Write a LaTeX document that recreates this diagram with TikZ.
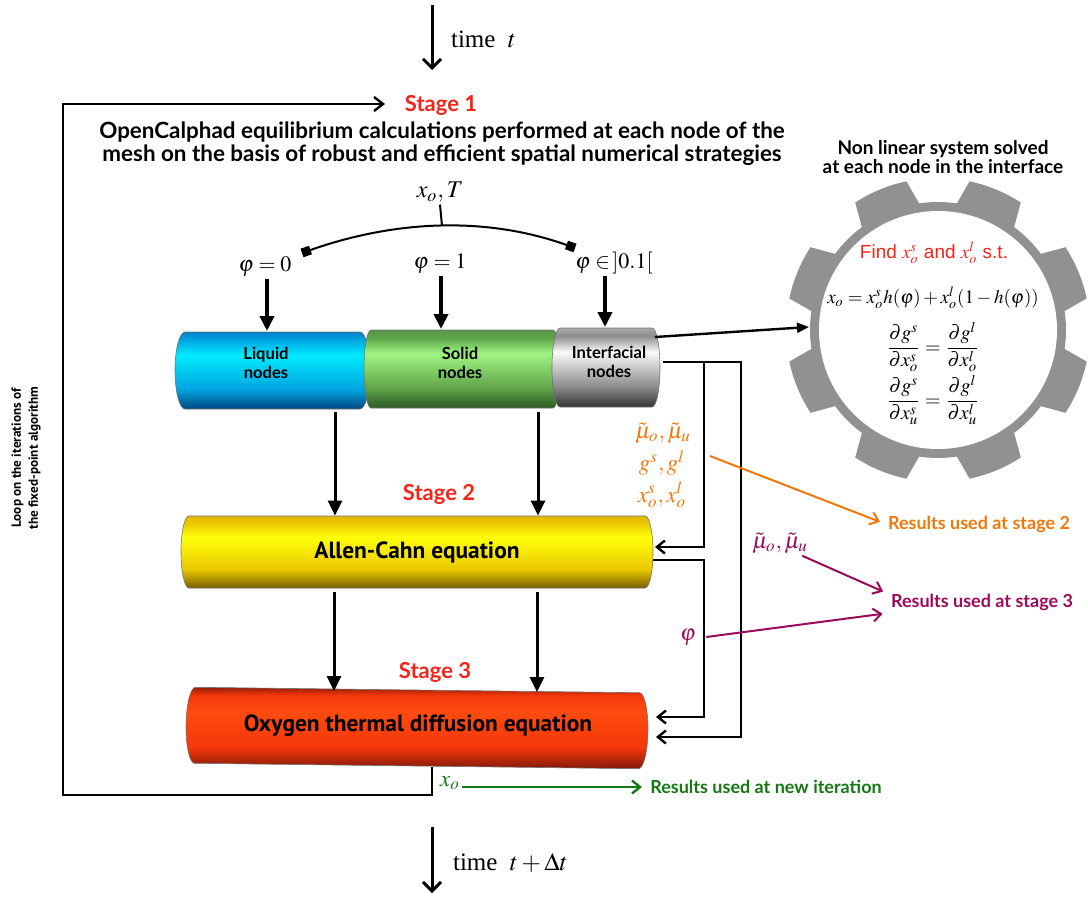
\documentclass[tikz,border=0pt]{standalone}
\usepackage{mathptmx}
\usepackage[no-math]{fontspec}
\setmainfont{Liberation Serif}
\newfontfamily\latofont{Lato}
\newfontfamily\ptfont{PT Sans}
\newfontfamily\helvfont{Liberation Sans}
\usetikzlibrary{arrows.meta,positioning}

\definecolor{stagered}{RGB}{245,35,25}
\definecolor{resorange}{RGB}{240,120,10}
\definecolor{respurple}{RGB}{155,10,90}
\definecolor{resgreen}{RGB}{20,120,20}
\definecolor{gearcol}{RGB}{145,145,145}
% cylinder colours: dark, base, light, top
\definecolor{liqdark}{RGB}{0,70,130}   \definecolor{liqbase}{RGB}{0,165,225}
\definecolor{liqlight}{RGB}{0,235,255} \definecolor{liqtop}{RGB}{0,130,200}
\definecolor{soldark}{RGB}{45,90,35}   \definecolor{solbase}{RGB}{95,165,75}
\definecolor{sollight}{RGB}{160,245,130} \definecolor{soltop}{RGB}{90,150,70}
\definecolor{intdark}{RGB}{50,50,50}   \definecolor{intbase}{RGB}{140,140,140}
\definecolor{intlight}{RGB}{250,250,250} \definecolor{inttop}{RGB}{170,170,170}
\definecolor{acdark}{RGB}{120,95,0}    \definecolor{acbase}{RGB}{235,200,0}
\definecolor{aclight}{RGB}{255,255,10} \definecolor{actop}{RGB}{225,185,0}
\definecolor{oxdark}{RGB}{130,25,10}   \definecolor{oxbase}{RGB}{245,55,10}
\definecolor{oxlight}{RGB}{255,75,15}  \definecolor{oxtop}{RGB}{150,30,10}

\newcommand{\cylshade}[5]{%
  \pgfdeclareverticalshading{#1}{100bp}{color(0bp)=(#2); color(25bp)=(#2); color(38bp)=(#3); color(60bp)=(#4); color(70bp)=(#3); color(75bp)=(#5); color(100bp)=(#5)}}
\cylshade{liqshade}{liqdark}{liqbase}{liqlight}{liqtop}
\cylshade{solshade}{soldark}{solbase}{sollight}{soltop}
\cylshade{intshade}{intdark}{intbase}{intlight}{inttop}
\cylshade{acshade}{acdark}{acbase}{aclight}{actop}
\cylshade{oxshade}{oxdark}{oxbase}{oxlight}{oxtop}

% x1, y1 (top), x2, y2 (bottom), cap radius, shading
\newcommand{\cylinder}[6]{%
  \shade[shading=#6, draw=black!55, line width=0.3pt]
    (#1+#5,-#2) -- (#3-#5,-#2)
    arc[start angle=90, end angle=-90, x radius=#5, y radius={(#4-#2)/2}]
    -- (#1+#5,-#4)
    arc[start angle=270, end angle=90, x radius=#5, y radius={(#4-#2)/2}] -- cycle;}

\tikzset{
  conn/.style={line width=1.2pt, line join=miter},
  barb/.style={-{Straight Barb[length=4pt,width=6.5pt]}},
  fat/.style={line width=2pt, -{Triangle[length=7.5pt,width=7pt]}},
  down/.style={line width=1.5pt, -{Triangle[length=7.5pt,width=7pt]}},
  stagelbl/.style={text=stagered, font=\latofont\bfseries\fontsize{11}{12}\selectfont},
  cyltxt/.style={font=\latofont\bfseries\fontsize{8.3}{9.6}\selectfont, align=center},
  bigtxt/.style={font=\ptfont\bfseries\fontsize{11.7}{13}\selectfont},
  mathlbl/.style={font=\fontsize{11.5}{13}\selectfont, inner sep=1pt},
  eqtxt/.style={font=\fontsize{10}{12}\selectfont, inner sep=1pt},
  restxt/.style={font=\latofont\bfseries\fontsize{9}{10}\selectfont, inner sep=1pt},
}

\begin{document}
\begin{tikzpicture}[x=0.5pt, y=0.5pt]
\useasboundingbox (0,0) rectangle (1088,-900);

% time arrows
\coordinate (tin) at (432,-5);
\coordinate (tinend) at (432,-70);
\draw[line width=1.5pt, -{Straight Barb[length=4.5pt,width=9pt]}] (tin) -- (tinend);
\node[anchor=west, font=\fontsize{12.5}{14}\selectfont] (timet) at (444,-39) {time\enspace$t$};
\coordinate (tout) at (432,-827);
\coordinate (toutend) at (432,-893);
\draw[line width=1.5pt, -{Straight Barb[length=4.5pt,width=9pt]}] (tout) -- (toutend);
\node[anchor=west, font=\fontsize{12.5}{14}\selectfont] (timedt) at (446,-863) {time\enspace$t+\Delta t$};

% stage 1
\node[stagelbl] (stage1) at (441,-105) {Stage 1};
\node[font=\latofont\bfseries\fontsize{11.2}{11.5}\selectfont, align=center] (title) at (442,-144)
  {OpenCalphad equilibrium calculations performed at each node of the\\mesh on the basis of robust and efficient spatial numerical strategies};
\node[mathlbl, font=\fontsize{12}{14}\selectfont] (xoT) at (440,-192) {$x_o,T$};
\coordinate (arctop) at (442,-226);
\coordinate (arcL) at (302,-253);
\coordinate (arcR) at (575,-248);
\draw[line width=1pt] (xoT.south) -- (arctop);
\draw[line width=1pt, {Square[length=4.5pt,width=4.5pt]}-{Square[length=4.5pt,width=4.5pt]}]
  (arcL) .. controls (398,-219) and (489,-217) .. (arcR);
\node[mathlbl, font=\fontsize{11}{13}\selectfont] (phi0) at (265,-267) {$\varphi=0$};
\node[mathlbl, font=\fontsize{11}{13}\selectfont] (phi1) at (440,-264) {$\varphi=1$};
\node[mathlbl, font=\fontsize{11}{13}\selectfont] (phiI) at (614,-263) {$\varphi\in\,]0.1[$};

% stage 1 cylinder
\cylinder{175}{332}{370}{409}{10}{liqshade}
\cylinder{364}{330}{560}{408}{7}{solshade}
\cylinder{552}{328}{660}{407}{8}{intshade}
\node[cyltxt] (liquid) at (266,-363) {Liquid\\nodes};
\node[cyltxt] (solid) at (460,-363) {Solid\\nodes};
\node[cyltxt] (intf) at (609,-362) {Interfacial\\nodes};
\coordinate (liqtop) at (267,-331);
\coordinate (soltop) at (441,-329);
\coordinate (inttop) at (605,-327);
\draw[fat] (liqtop |- phi0.south) -- (liqtop);
\draw[fat] (soltop |- phi1.south) -- (soltop);
\draw[fat] (inttop |- phiI.south) -- (inttop);

% stage 2
\node[stagelbl] (stage2) at (439,-494) {Stage 2};
\cylinder{181}{516}{653}{588}{8}{acshade}
\node[bigtxt, minimum width=236pt, minimum height=36pt, inner sep=0] (allen) at (417,-552) {Allen-Cahn equation};
\coordinate (d1) at (335,-412);
\coordinate (d2) at (538,-412);
\draw[down] (d1) -- (d1 |- allen.north);
\draw[down] (d2) -- (d2 |- allen.north);

% stage 3
\node[stagelbl] (stage3) at (435,-672) {Stage 3};
\begin{scope}[rotate around={-0.7:(417,-728)}]
\cylinder{186}{690}{648}{766}{9}{oxshade}
\end{scope}
\node[bigtxt] (oxygen) at (418,-726) {Oxygen thermal diffusion equation};
\coordinate (d3) at (334,-592);
\coordinate (d4) at (537,-592);
\coordinate (d3e) at (334,-691);
\coordinate (d4e) at (537,-692);
\draw[down] (d3) -- (d3e);
\draw[down] (d4) -- (d4e);

% gear
\begin{scope}[shift={(938,-330)}]
\fill[gearcol] (0:128) \foreach \t in {22.5,67.5,...,337.5}{
    arc[start angle=\t-22.5, end angle=\t-14, radius=128] -- ({\t-10.5}:152)
    arc[start angle=\t-10.5, end angle=\t+10.5, radius=152] -- ({\t+14}:128)
    arc[start angle=\t+14, end angle=\t+22.5, radius=128]} -- cycle;
\end{scope}
\node[circle, fill=white, inner sep=0, minimum size=119pt] (gear) at (938,-330) {};
\node[font=\latofont\bfseries\fontsize{9.5}{9.5}\selectfont, align=center] (nonlin) at (943,-157)
  {Non linear system solved\\at each node in the interface};
\node[text=stagered, font=\helvfont\fontsize{9.5}{11}\selectfont, inner sep=1pt] (find) at (934,-253) {Find $x_o^s$ and $x_o^l$ s.t.};
\node[eqtxt, font=\fontsize{9.5}{11}\selectfont] (eq1) at (933,-298) {$x_o=x_o^sh(\varphi)+x_o^l(1-h(\varphi))$};
\node[eqtxt] (eq2) at (933,-347) {$\displaystyle\frac{\partial g^s}{\partial x_o^s}=\frac{\partial g^l}{\partial x_o^l}$};
\node[eqtxt] (eq3) at (933,-400) {$\displaystyle\frac{\partial g^s}{\partial x_u^s}=\frac{\partial g^l}{\partial x_u^l}$};
\coordinate (intout) at (655,-337);
\coordinate (gearin) at (809,-327);
\draw[line width=1.2pt, -{Triangle[length=6pt,width=5pt]}] (intout) -- (gearin);

% feedback lines on the right
\coordinate (intR) at (663,-362);
\coordinate (jct) at (704,-362);
\coordinate (acIn) at (655,-547);
\coordinate (acOut) at (653,-560);
\coordinate (oxIn1) at (656,-717);
\coordinate (oxIn2) at (656,-737);
\draw[conn, barb] (intR) -- ++(78,0) |- (oxIn2);
\draw[conn, barb] (jct) |- (acIn);
\draw[conn, barb] (acOut) -- (acOut -| jct) |- (oxIn1);

% results
\node[mathlbl, text=resorange] (omu) at (663,-433) {$\tilde\mu_o,\tilde\mu_u$};
\node[mathlbl, text=resorange] (og) at (662,-463) {$g^s,g^l$};
\node[mathlbl, text=resorange] (ox) at (662,-495) {$x_o^s,x_o^l$};
\node[restxt, text=resorange] (res2) at (979,-524) {Results used at stage 2};
\coordinate (orgstart) at (710,-456);
\draw[line width=1pt, resorange, barb, shorten >=3pt] (orgstart) -- (res2.west);

\node[mathlbl, text=respurple] (pmu) at (780,-543) {$\tilde\mu_o,\tilde\mu_u$};
\node[mathlbl, text=respurple] (pphi) at (688,-637) {$\varphi$};
\node[restxt, text=respurple] (res3) at (982,-602) {Results used at stage 3};
\draw[line width=1pt, respurple, barb, shorten >=3pt] ([xshift=-4pt]pmu.south east) -- ([yshift=4pt]res3.west);
\draw[line width=1pt, respurple, barb, shorten >=3pt] ([xshift=4pt]pphi.east) -- ([yshift=-5.5pt]res3.west);

\node[mathlbl, text=resgreen] (xo) at (450,-783) {$x_o$};
\node[restxt, text=resgreen] (resnew) at (766,-787) {Results used at new iteration};
\draw[line width=1.2pt, resgreen, barb, shorten >=3pt] (xo.east |- resnew.west) -- (resnew.west);

% loop of the fixed-point algorithm
\coordinate (oxbot) at (432,-767);
\coordinate (loopcorner) at (63,-795);
\coordinate (loopin) at (385,-104);
\draw[conn, -{Straight Barb[length=4.5pt,width=7pt]}] (oxbot) |- (loopcorner) |- (loopin);
\node[rotate=90, align=center, font=\ptfont\bfseries\fontsize{6.6}{8.5}\selectfont] (looptxt) at (26,-458)
  {Loop on the iterations of\\the fixed-point algorithm};
\end{tikzpicture}
\end{document}
